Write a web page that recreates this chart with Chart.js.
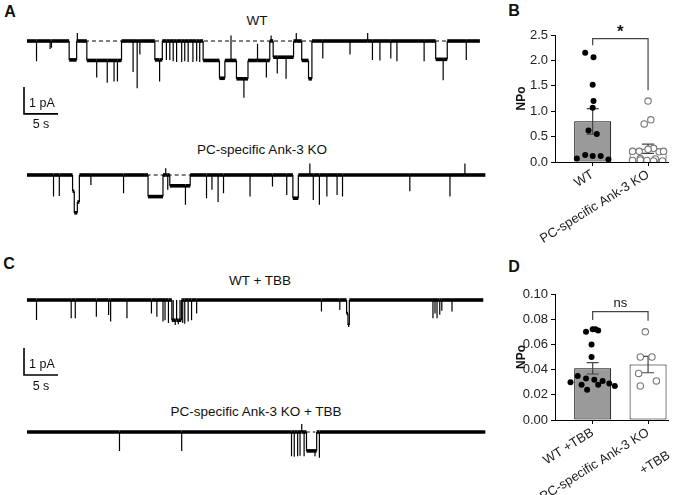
<!DOCTYPE html>
<html>
<head>
<meta charset="utf-8">
<script src="https://cdn.jsdelivr.net/npm/chart.js@4.4.0/dist/chart.umd.min.js"></script>
<style>
  body { margin: 0; background: #fff; }
  #fig { position: relative; width: 685px; height: 495px; font-family: Arial, "Liberation Sans", sans-serif; color: #111; overflow: hidden; }
  #fig canvas { position: absolute; }
  .lbl { position: absolute; font-size: 13.5px; line-height: 1; white-space: nowrap; transform: translate(-50%, -50%); }
  .pl { position: absolute; font-size: 16px; line-height: 1; font-weight: bold; transform: translate(-50%, -50%); }
</style>
</head>
<body>
<div id="fig">
  <div class="pl" style="left:10px;top:12px">A</div>
  <div class="pl" style="left:514px;top:11px">B</div>
  <div class="pl" style="left:9px;top:264px">C</div>
  <div class="pl" style="left:514px;top:267px">D</div>

  <div class="lbl" style="left:257px;top:21px">WT</div>
  <div class="lbl" style="left:262px;top:150px">PC-specific Ank-3 KO</div>
  <div class="lbl" style="left:260px;top:281px">WT + TBB</div>
  <div class="lbl" style="left:256px;top:412px">PC-specific Ank-3 KO + TBB</div>

  <canvas id="trWT" width="490" height="115" style="left:0;top:20.5px"></canvas>
  <canvas id="trKO" width="490" height="80" style="left:0;top:155px"></canvas>
  <canvas id="trWTtbb" width="490" height="115" style="left:0;top:280px"></canvas>
  <canvas id="trKOtbb" width="490" height="60" style="left:0;top:411.5px"></canvas>

  <canvas id="barB" width="185" height="250" style="left:500px;top:0"></canvas>
  <canvas id="barD" width="185" height="245" style="left:500px;top:250px"></canvas>
</div>

<script>
// ---- single-channel traces: steps = [time s, level pA], spikes = brief openings [time s, peak pA]
const wtSteps = [[0, 0], [6.2, -0.7], [7.3, 0], [8.8, -0.72], [13.9, 0], [18.8, -0.7], [19.9, 0],
  [25.9, -0.72], [28.3, -1.38], [29.1, -0.72], [30.8, -1.4], [32.5, -0.72], [35.7, 0], [36.2, -0.6],
  [39.2, 0], [40.4, -0.72], [41.4, -1.4], [41.9, 0], [60.1, -0.68], [61.8, 0]];
const wtSpikes = [[1.4, -0.75], [3.4, -0.3], [3.6, -0.25], [7.4, 0.3], [10.25, -1.35], [11.8, -1.55],
  [12.8, -1.5], [13.3, -1.5], [15.6, -1.15], [16.2, -1.75], [16.6, -0.5], [19.5, -1.5], [20.5, -0.7],
  [21.0, -0.7], [21.5, -0.75], [22.0, -0.78], [22.75, -0.78], [23.2, -0.75], [23.7, -0.78], [24.4, -0.78],
  [24.95, -0.75], [25.4, -0.78], [30.0, 0.2], [31.9, -2.1], [33.9, -0.1], [35.2, -1.35], [35.9, 0.2],
  [36.8, -1.2], [38.1, -1.4], [39.6, 0.3], [43.5, -0.65], [47.5, -0.5], [50.1, 0.3], [50.8, -0.7],
  [51.9, -0.72], [53.5, -0.65], [54.4, -0.75], [58.4, -0.75], [61.2, -1.45], [64.6, -0.7]];
const wtEnd = 66.6;
const wtDash = [7.5, 65.5];

const koSteps = [[0, 0], [6.7, -0.6], [6.95, -1.4], [7.4, -1.0], [7.7, 0], [17.8, -0.8], [20.0, 0],
  [21.0, -0.4], [24.0, 0], [39.1, -0.86], [39.9, 0]];
const koSpikes = [[3.9, -0.8], [4.75, -0.78], [9.4, -0.37], [14.2, -0.68], [20.4, 0.25], [20.7, -0.55],
  [23.3, -1.1], [26.4, -0.86], [27.2, -0.55], [28.1, -1.0], [28.9, -0.68], [32.8, -0.8], [36.1, -0.43],
  [38.2, -0.74], [41.6, 0.43], [42.1, -0.93], [43.0, -1.1], [44.1, -0.8], [45.6, -0.74], [46.4, -0.8],
  [56.3, -0.6], [62.2, -0.8], [64.4, 0.43]];
const koEnd = 67.4;
const koDash = [17.6, 24.2];

const wtTbbSteps = [[0, 0], [21.3, -0.75], [22.7, 0], [47.0, -0.5], [47.2, -0.93], [47.4, 0]];
const wtTbbSpikes = [[1.4, -0.74], [6.5, -0.68], [7.1, -0.68], [10.2, -0.62], [12.0, -0.56], [12.3, -0.8],
  [14.7, -0.68], [18.3, -0.5], [19.1, -0.62], [20.0, -0.8], [20.3, -0.75], [20.8, -0.85], [21.5, 0],
  [21.8, -0.93], [22.0, 0], [22.25, -0.9], [22.5, 0], [22.9, -0.85], [23.2, -0.88], [23.7, -0.8],
  [24.2, -0.75], [24.95, -0.5], [43.3, -0.43], [46.0, -0.37], [59.7, -0.68], [60.0, -0.5], [60.3, -0.68],
  [60.7, -0.55], [61.0, -0.4], [62.5, -0.43]];
const wtTbbEnd = 67.1;

const koTbbSteps = [[0, 0], [41.1, -0.7], [42.6, 0]];
const koTbbSpikes = [[13.6, -0.7], [22.75, -0.7], [38.9, -0.9], [39.3, -0.92], [39.8, -0.9], [40.15, -0.88],
  [40.4, 0.3], [40.75, -0.9], [42.35, -0.9], [43.0, -0.95]];
const koTbbEnd = 67.4;
const koTbbDash = [41.0, 42.4];

// ---- NPo summary data
const labelsB = ['WT', 'PC-specific Ank-3 KO'];
const meanB = [0.80, 0.26];
const semB = [0.25, 0.09];
const wtNPo = [2.15, 2.06, 1.52, 1.20, 1.07, 0.62, 0.55, 0.07, 0.14, 0.12, 0.12, 0.05];
const wtJitter = [-0.135, 0.015, 0, 0.015, 0, -0.075, 0.075, -0.285, -0.135, 0, 0.145, 0.285];
const koNPo = [1.20, 0.83, 0.75, 0.27, 0.25, 0.21, 0.21, 0.20, 0.21, 0.07, 0.06, 0.03, 0.03, 0.02, 0.02, 0.04];
const koJitter = [0, 0.05, -0.07, 0.1, 0, -0.28, -0.16, 0.2, 0.28, -0.14, 0.13, -0.28, -0.02, 0.1, 0.26, -0.14];

const labelsD = ['WT +TBB', 'PC-specific Ank-3 KO'];
const labelD2ndLine = '+TBB';
const meanD = [0.041, 0.044];
const semD = [0.0045, 0.0065];
const wtTbbNPo = [0.070, 0.072, 0.071, 0.072, 0.060, 0.050, 0.035, 0.033, 0.032, 0.031, 0.030, 0.029, 0.028, 0.028, 0.027, 0.024];
const wtTbbJitter = [-0.12, 0.0, 0.1, 0.05, -0.02, -0.02, -0.27, -0.12, 0.03, 0.18, -0.4, 0.3, -0.2, 0.1, 0.4, -0.1];
const koTbbNPo = [0.070, 0.050, 0.050, 0.037, 0.031, 0.027];
const koTbbJitter = [-0.05, -0.14, 0.07, -0.17, 0.15, -0.14];

// ---- layout constants for the traces
const PX_PER_S = 6.8, PX_PER_PA = 27, TRACE_LEFT = 27, BASE_OFFSET = 20;
const LABEL_ROT = 32;

function buildTrace(steps, spikes, end) {
  const ev = steps.map(s => ({ t: s[0], v: s[1], step: true }))
    .concat(spikes.map(s => ({ t: s[0], v: s[1], step: false })))
    .sort((a, b) => a.t - b.t);
  let level = steps[0][1];
  const pts = [{ x: 0, y: level }];
  ev.forEach(e => {
    if (e.step) {
      pts.push({ x: e.t, y: level }, { x: e.t, y: e.v });
      level = e.v;
    } else {
      pts.push({ x: e.t, y: level }, { x: e.t, y: e.v }, { x: e.t, y: level });
    }
  });
  pts.push({ x: end, y: level });
  return pts;
}

const scaleBarPlugin = {
  id: 'scaleBar',
  afterDraw(chart, args, o) {
    if (!o || o.t === undefined) return;
    const xs = chart.scales.x, ys = chart.scales.y, c = chart.ctx;
    const x0 = xs.getPixelForValue(o.t), x1 = xs.getPixelForValue(o.t + o.sec);
    const y0 = ys.getPixelForValue(o.top), y1 = ys.getPixelForValue(o.top - o.pA);
    c.save();
    c.strokeStyle = '#000';
    c.lineWidth = 1.6;
    c.beginPath();
    c.moveTo(x0, y0); c.lineTo(x0, y1); c.lineTo(x1, y1);
    c.stroke();
    c.fillStyle = '#111';
    c.font = '12.5px Arial, "Liberation Sans", sans-serif';
    c.textBaseline = 'middle';
    c.textAlign = 'left';
    c.fillText(o.pA + ' pA', x0 + 5, (y0 + y1) / 2 + 3);
    c.textAlign = 'center';
    c.fillText(o.sec + ' s', (x0 + x1) / 2, y1 + 11);
    c.restore();
  }
};

function traceChart(id, pts, dash, bar) {
  const cv = document.getElementById(id);
  const ds = [{
    data: pts, borderColor: '#000', borderWidth: 3.6, pointRadius: 0, clip: false,
    segment: { borderWidth: s => (s.p0.parsed.x === s.p1.parsed.x ? 1.2 : 3.6) }
  }];
  if (dash) {
    ds.push({ data: [{ x: dash[0], y: 0 }, { x: dash[1], y: 0 }], borderColor: '#000',
      borderWidth: 1, borderDash: [4, 3], pointRadius: 0, clip: false });
  }
  new Chart(cv, {
    type: 'line',
    data: { datasets: ds },
    options: {
      responsive: false, animation: false, events: [],
      layout: { padding: 0 },
      plugins: { legend: { display: false }, tooltip: { enabled: false }, scaleBar: bar || {} },
      scales: {
        x: { type: 'linear', display: false, min: -TRACE_LEFT / PX_PER_S, max: (cv.width - TRACE_LEFT) / PX_PER_S },
        y: { display: false, max: BASE_OFFSET / PX_PER_PA, min: -(cv.height - BASE_OFFSET) / PX_PER_PA }
      }
    },
    plugins: [scaleBarPlugin]
  });
}

traceChart('trWT', buildTrace(wtSteps, wtSpikes, wtEnd), wtDash, { t: -0.44, top: -1.7, pA: 1, sec: 5 });
traceChart('trKO', buildTrace(koSteps, koSpikes, koEnd), koDash);
traceChart('trWTtbb', buildTrace(wtTbbSteps, wtTbbSpikes, wtTbbEnd), null, { t: -0.44, top: -1.78, pA: 1, sec: 5 });
traceChart('trKOtbb', buildTrace(koTbbSteps, koTbbSpikes, koTbbEnd), koTbbDash);

// ---- bar + dot plots
const barDecor = {
  id: 'barDecor',
  afterDatasetDraw(chart, args, o) {
    if (args.meta.type !== 'bar') return;
    const xs = chart.scales.x, ys = chart.scales.y, c = chart.ctx;
    c.save();
    c.strokeStyle = '#444';
    c.lineWidth = 1.2;
    o.means.forEach((m, i) => {
      const x = xs.getPixelForValue(i);
      const yt = ys.getPixelForValue(m + o.sems[i]), yb = ys.getPixelForValue(m - o.sems[i]);
      c.beginPath();
      c.moveTo(x, yb); c.lineTo(x, yt);
      c.moveTo(x - 6, yt); c.lineTo(x + 6, yt);
      c.moveTo(x - 6, yb); c.lineTo(x + 6, yb);
      c.stroke();
    });
    c.restore();
  },
  afterDraw(chart, args, o) {
    const xs = chart.scales.x, ys = chart.scales.y, c = chart.ctx, b = o.bracket;
    const xl = xs.getPixelForValue(0), xr = xs.getPixelForValue(1), yt = ys.getPixelForValue(b.y);
    c.save();
    c.strokeStyle = '#444';
    c.lineWidth = 1.2;
    c.beginPath();
    c.moveTo(xl, ys.getPixelForValue(b.left)); c.lineTo(xl, yt);
    c.lineTo(xr, yt); c.lineTo(xr, ys.getPixelForValue(b.right));
    c.stroke();
    c.fillStyle = '#111';
    c.font = b.font;
    c.textAlign = 'center';
    c.textBaseline = 'middle';
    c.fillText(b.text, (xl + xr) / 2, ys.getPixelForValue(b.textY));
    if (o.sub) {
      // second line of a tick label, set below the first like the original
      c.fillStyle = '#222';
      c.font = '13px Arial';
      c.translate(xs.getPixelForValue(o.sub.index) + o.sub.dx, xs.top + o.sub.dy);
      c.rotate(-LABEL_ROT * Math.PI / 180);
      c.fillText(o.sub.text, 0, 0);
    }
    c.restore();
  }
};

function dots(vals, jit, group) {
  return vals.map((v, i) => ({ x: group + jit[i], y: v }));
}

function npoChart(id, labels, means, sems, wt, wtJ, ko, koJ, yMax, yStep, dec, padTop, xHeight, bracket, sub) {
  new Chart(document.getElementById(id), {
    type: 'bar',
    data: {
      datasets: [
        { type: 'bar', data: means.map((m, i) => ({ x: i, y: m })), backgroundColor: ['#9a9a9a', '#ffffff'],
          borderColor: '#000', borderWidth: 1, borderSkipped: false, barPercentage: 0.667, categoryPercentage: 1, order: 3 },
        { type: 'scatter', data: dots(wt, wtJ, 0), pointRadius: 3, backgroundColor: '#000', borderColor: '#000',
          borderWidth: 0, order: 1 },
        { type: 'scatter', data: dots(ko, koJ, 1), pointRadius: 3.2, backgroundColor: '#fff', borderColor: '#777',
          borderWidth: 1.1, order: 1 }
      ]
    },
    options: {
      responsive: false, animation: false, events: [],
      layout: { padding: { left: 14, top: padTop, right: 17, bottom: 0 } },
      plugins: { legend: { display: false }, tooltip: { enabled: false },
        barDecor: { means: means, sems: sems, bracket: bracket, sub: sub } },
      scales: {
        x: {
          type: 'linear', min: -0.68, max: 1.36, offset: false,
          afterBuildTicks: s => { s.ticks = [{ value: 0 }, { value: 1 }]; },
          afterFit: s => { s.height = xHeight; },
          ticks: { callback: v => labels[v], autoSkip: false, minRotation: LABEL_ROT, maxRotation: LABEL_ROT,
            font: { family: 'Arial', size: 13, lineHeight: 1.2 }, color: '#222', padding: 1 },
          grid: { drawOnChartArea: false, drawTicks: true, tickLength: 4, color: '#000', offset: false },
          border: { color: '#000', width: 1 }
        },
        y: {
          min: 0, max: yMax,
          afterFit: s => { s.width = 41; },
          ticks: { stepSize: yStep, callback: v => v.toFixed(dec), font: { family: 'Arial', size: 13 }, color: '#222', padding: 3 },
          grid: { drawOnChartArea: false, drawTicks: true, tickLength: 4, color: '#000' },
          border: { color: '#000', width: 1 },
          title: { display: true, text: 'NPo', font: { family: 'Arial', size: 12, weight: 'bold' }, color: '#111', padding: 0 }
        }
      }
    },
    plugins: [barDecor]
  });
}

npoChart('barB', labelsB, meanB, semB, wtNPo, wtJitter, koNPo, koJitter, 2.5, 0.5, 1, 35, 88,
  { y: 2.43, left: 2.30, right: 1.41, text: '*', textY: 2.55, font: 'bold 17px Arial' });
npoChart('barD', labelsD, meanD, semD, wtTbbNPo, wtTbbJitter, koTbbNPo, koTbbJitter, 0.10, 0.02, 2, 44, 75,
  { y: 0.086, left: 0.0794, right: 0.0788, text: 'ns', textY: 0.0926, font: '13px Arial' },
  { index: 1, text: labelD2ndLine, dx: 7, dy: 43 });
</script>
</body>
</html>
